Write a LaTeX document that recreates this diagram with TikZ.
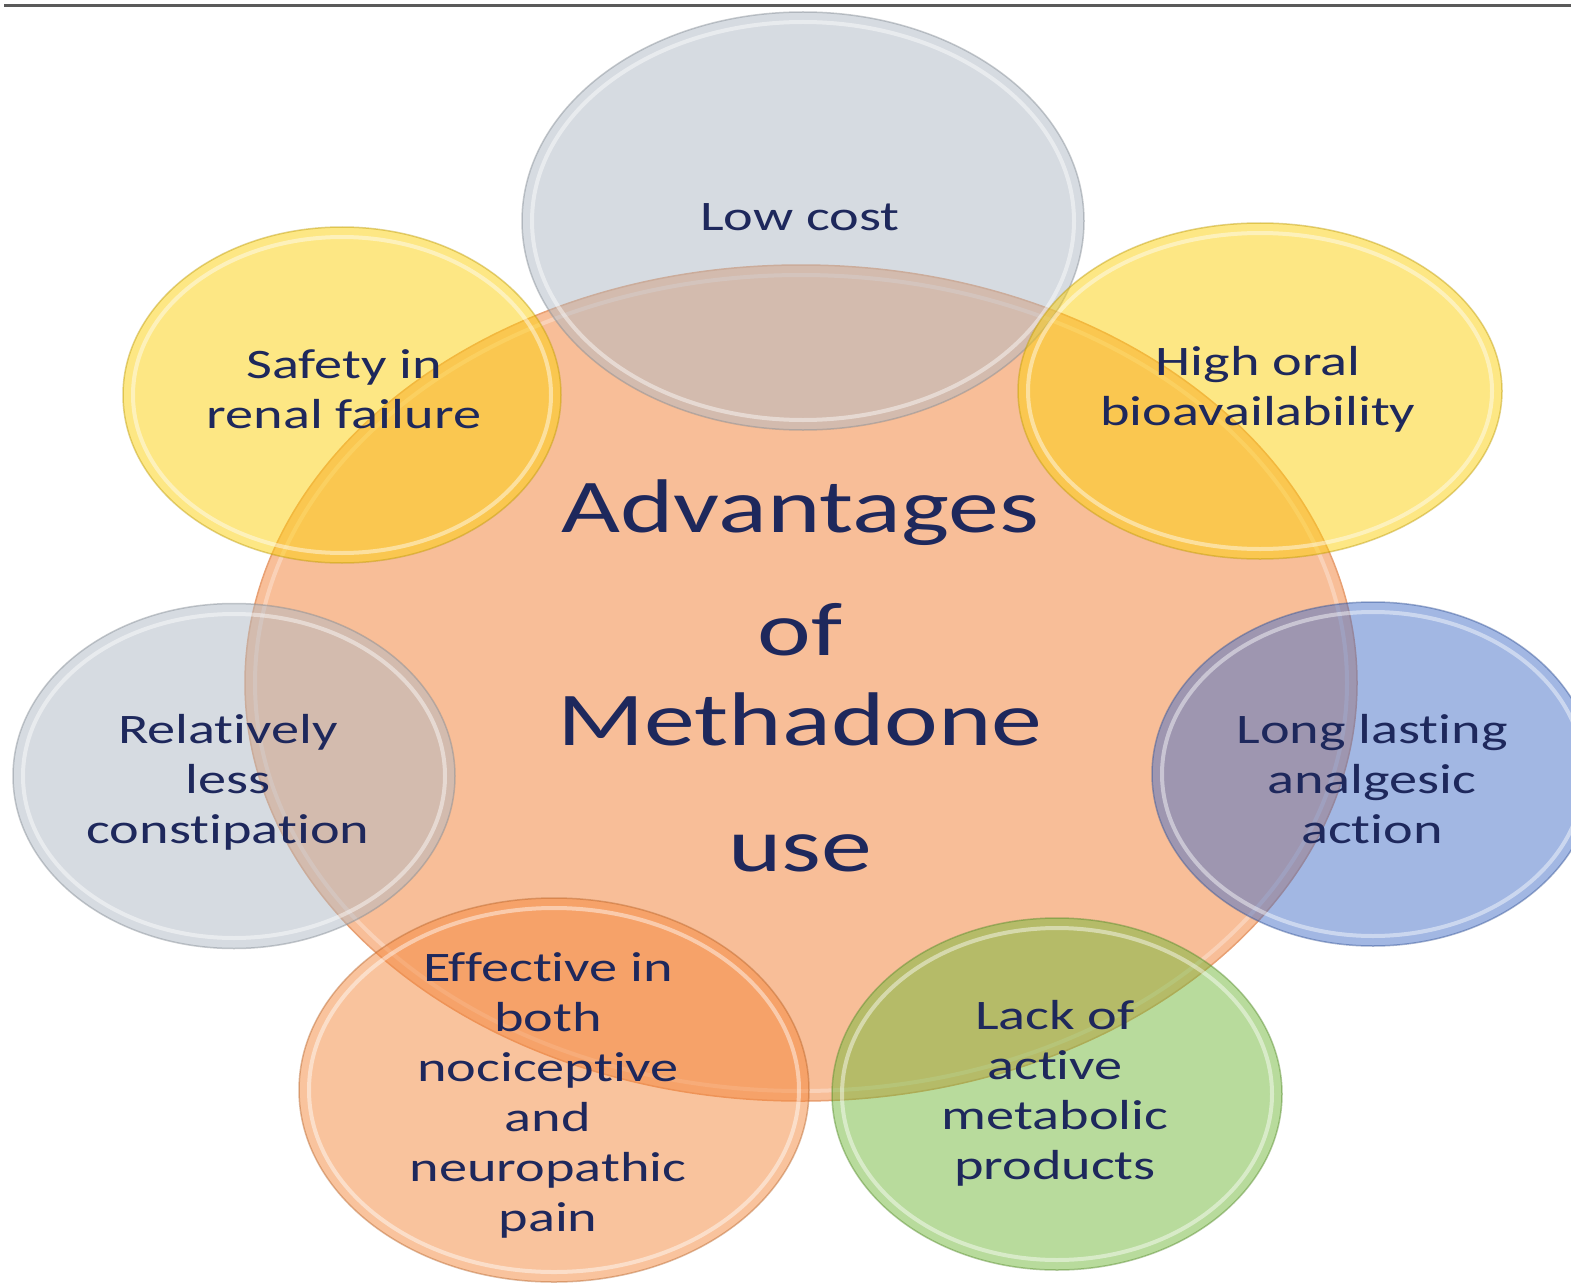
\documentclass[tikz,border=0pt]{standalone}
\usepackage{fontspec}
\setmainfont{Carlito}[Ligatures={TeX,NoCommon}]
\usetikzlibrary{shapes.geometric}
\definecolor{navy}{RGB}{30,40,92}
\definecolor{hubfill}{RGB}{248,190,152}
\definecolor{hubedge}{RGB}{232,160,115}
\definecolor{greyfill}{RGB}{175,185,196}
\definecolor{yellowfill}{RGB}{253,208,10}
\definecolor{bluefill}{RGB}{70,112,200}
\definecolor{greenfill}{RGB}{115,185,58}
\definecolor{orangefill}{RGB}{245,136,60}
\definecolor{rulegrey}{RGB}{90,90,90}
\begin{document}
\begin{tikzpicture}[x=1pt,y=-1pt,
  blob/.style={ellipse, inner sep=0pt, fill=#1, fill opacity=0.5,
    draw=#1!75!black, draw opacity=0.45, line width=1.5pt},
  hub/.style={ellipse, inner sep=0pt, fill=hubfill, draw=hubedge, line width=1.5pt},
  rim/.style={draw=white, line width=4pt, opacity=0.45},
  lbl/.style={text=navy, font=\fontsize{42}{50}\selectfont, align=center, xscale=1.34, inner sep=0pt},
  title/.style={text=navy, font=\fontsize{76}{90}\selectfont, align=center, xscale=1.34, inner sep=0pt}
]
\useasboundingbox (0,0) rectangle (1571,1284);
\fill[white] (0,0) rectangle (1571,1284);

% rule along the top edge
\coordinate (ruleL) at (4,6);
\coordinate (ruleR) at (1571,6);
\draw[rulegrey, line width=3pt] (ruleL) -- (ruleR);

% central hub
\node[hub, minimum width=1112pt, minimum height=836pt] (hub) at (801,683) {};
\draw[rim, opacity=0.3] (hub.center) ellipse [x radius=546pt, y radius=408pt];

% satellites
\node[blob=greyfill, minimum width=562pt, minimum height=418pt] (cost) at (803,221) {};
\draw[rim] (cost.center) ellipse [x radius=271pt, y radius=199pt];

\node[blob=yellowfill, minimum width=438pt, minimum height=336pt] (renal) at (342,395) {};
\draw[rim] (renal.center) ellipse [x radius=209pt, y radius=158pt];

\node[blob=yellowfill, minimum width=484pt, minimum height=336pt] (oral) at (1260,391) {};
\draw[rim] (oral.center) ellipse [x radius=232pt, y radius=158pt];

\node[blob=greyfill, minimum width=442pt, minimum height=345pt] (const) at (234,776) {};
\draw[rim] (const.center) ellipse [x radius=211pt, y radius=162pt];

\node[blob=bluefill, minimum width=442pt, minimum height=344pt] (anal) at (1373,774) {};
\draw[rim] (anal.center) ellipse [x radius=211pt, y radius=162pt];

\node[blob=orangefill, minimum width=510pt, minimum height=384pt] (pain) at (554,1090) {};
\draw[rim] (pain.center) ellipse [x radius=245pt, y radius=182pt];

\node[blob=greenfill, minimum width=450pt, minimum height=352pt] (metab) at (1057,1094) {};
\draw[rim] (metab.center) ellipse [x radius=215pt, y radius=166pt];

% labels
\node[title] (hubtext) at (800,676) {Advantages\\[33pt]of\\Methadone\\[36pt]use};
\node[lbl] (costtext) at (800,217) {Low cost};
\node[lbl] (renaltext) at (344,389) {Safety in\\renal failure};
\node[lbl] (oraltext) at (1258,389) {High oral\\bioavailability};
\node[lbl] (consttext) at (228,782) {Relatively\\less\\constipation};
\node[lbl] (analtext) at (1372,779) {Long lasting\\analgesic\\action};
\node[lbl] (paintext) at (548,1095) {Effective in\\both\\nociceptive\\and\\neuropathic\\pain};
\node[lbl] (metabtext) at (1055,1093) {Lack of\\active\\metabolic\\products};
\end{tikzpicture}
\end{document}
